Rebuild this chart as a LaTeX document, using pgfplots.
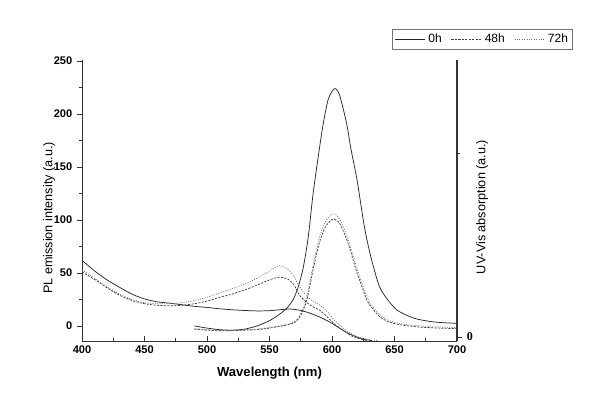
\documentclass[border=0pt]{standalone}
\usepackage{fontspec}
\setmainfont{Liberation Sans}
\newfontfamily\serifbf{Liberation Serif}
\usepackage{pgfplots}
\pgfplotsset{compat=1.18}

\definecolor{c0}{gray}{0.15}
\definecolor{c48}{gray}{0.25}
\definecolor{c72}{gray}{0.45}

\begin{document}
\begin{tikzpicture}
\path[use as bounding box, fill=white] (0,0) rectangle (450pt,306pt);
\begin{axis}[
  at={(61.5pt,50.25pt)}, anchor=south west,
  scale only axis,
  width=281.25pt, height=210.75pt,
  xmin=400, xmax=700, ymin=-14.2, ymax=251,
  axis x line*=bottom, axis y line*=left,
  xtick={400,450,...,700}, minor x tick num=1,
  ytick={0,50,...,250}, minor y tick num=1,
  xtick align=inside, ytick align=outside,
  major tick length=3.8pt, minor tick length=2.4pt,
  every tick/.style={black!80, line width=0.5pt},
  axis line style={black!80, line width=0.6pt},
  /pgf/number format/assume math mode=true,
  ticklabel style={font=\fontsize{8.3}{9}\selectfont\bfseries},
  xlabel={Wavelength (nm)},
  xlabel style={font=\fontsize{9.8}{11}\selectfont\bfseries, yshift=-3pt},
  ylabel={PL emission intensity (a.u.)},
  ylabel style={font=\fontsize{9.5}{11}\selectfont, at={(rel axis cs:0,0.438)},
                anchor=center, yshift=24.75pt},
  legend style={at={(1.309,1.110)}, anchor=north east, draw=black!55,
                legend columns=3, font=\fontsize{9}{10}\selectfont,
                inner sep=1.5pt, /tikz/every even column/.append style={column sep=5pt}},
  legend image code/.code={\draw[#1] (0cm,0cm) -- (0.8cm,0cm);},
  every axis plot/.append style={line width=0.55pt, smooth, tension=0.45},
]
% PL spectra (left axis)
\addplot[c0] coordinates {
 (490,0) (500,-2) (510,-3.5) (520,-4) (530,-3) (540,0) (550,5) (558,11)
 (564,17) (569,25) (573,37) (577,55) (581,84) (585,126) (590,168) (593,191)
 (597,214) (602,224) (606,218) (611.7,191) (615,168) (620,138) (625,100)
 (628,81) (632,61) (638,37) (645,24) (652,15) (660,10) (668,6.5)
 (680,4) (690,3) (700,2.5)};
\addlegendentry{0h}
\addplot[c48, dash pattern=on 1.6pt off 1pt] coordinates {
 (490,-3) (500,-4) (510,-4.5) (520,-4.5) (530,-4) (540,-3.5) (550,-2)
 (560,0) (566,1.5) (571,4) (575,10) (580,25) (585,54) (590,79) (595,94)
 (601,101) (606,97) (612,81) (616,66) (620,50) (624,37) (628,24)
 (632,17) (638,9) (645,4) (655,1) (670,-1) (685,-2) (700,-2.5)};
\addlegendentry{48h}
\addplot[c72, dash pattern=on 0.7pt off 1.1pt] coordinates {
 (490,-2.5) (500,-3.5) (510,-4) (520,-4) (530,-3.5) (540,-3) (550,-1.5)
 (560,0.5) (566,2) (571,5) (575,12) (580,28) (585,58) (590,84) (595,99)
 (601,106) (606,101) (612,85) (616,70) (620,54) (624,40) (628,27)
 (632,19) (638,11) (645,5.5) (655,2) (670,0) (685,-1) (700,-1.5)};
\addlegendentry{72h}
% UV-Vis absorption spectra (right axis, drawn in left units)
\addplot[c0, forget plot] coordinates {
 (400,62) (410,52) (420,43.5) (430,36.5) (440,30) (450,25.5) (460,22.8)
 (470,21.5) (480,20) (490,18.5) (500,17.5) (510,16.2) (520,15.3)
 (530,14.6) (540,14.2) (550,14.4) (560,15.5) (566,16) (572,15.3)
 (580,13) (590,8.5) (600,2.5) (610,-5) (615,-8) (620,-10.5) (625,-12.5)
 (632,-13.8)};
\addplot[c48, dash pattern=on 1.6pt off 1pt, forget plot] coordinates {
 (400,51) (410,44) (420,36) (430,29) (440,24) (450,21) (460,19.5)
 (470,19) (480,19.5) (490,21) (500,23.5) (510,27) (520,30) (530,34)
 (540,38.5) (550,43.5) (558,46) (565,44) (570,38) (574,29) (580,22)
 (585,18) (590,15) (595,10) (600,4) (605,-1) (610,-5) (615,-9)
 (620,-11.5) (628,-13.8)};
\addplot[c72, dash pattern=on 0.7pt off 1.1pt, forget plot] coordinates {
 (400,53) (410,45) (420,37) (430,30) (440,25) (450,22) (460,21)
 (470,21) (480,22) (490,24) (500,27) (510,31) (520,35) (530,39.5)
 (540,45) (550,52) (558,57) (565,53) (570,46) (574,37) (580,28)
 (585,23) (590,20) (595,15) (600,8) (605,2) (610,-3) (615,-7)
 (620,-10) (628,-12.5) (636,-13.8)};
\end{axis}
\begin{axis}[
  at={(61.5pt,50.25pt)}, anchor=south west,
  scale only axis,
  width=281.25pt, height=210.75pt,
  xmin=400, xmax=700, ymin=-0.0217, ymax=1.505,
  axis x line=none, axis y line*=right,
  ytick={0}, minor ytick={1},
  ytick align=outside,
  major tick length=3.8pt, minor tick length=2pt,
  every tick/.style={black!80, line width=0.5pt},
  axis line style={black!80, line width=1pt},
  /pgf/number format/assume math mode=true,
  yticklabel style={font=\serifbf\fontsize{9}{10}\selectfont\bfseries},
  ylabel={UV-Vis absorption (a.u.)},
  ylabel style={font=\fontsize{9.5}{11}\selectfont, at={(rel axis cs:1,0.477)},
                anchor=center, yshift=-18.75pt},
]
\addplot[draw=none] coordinates {(400,0)};
\end{axis}
\end{tikzpicture}
\end{document}
